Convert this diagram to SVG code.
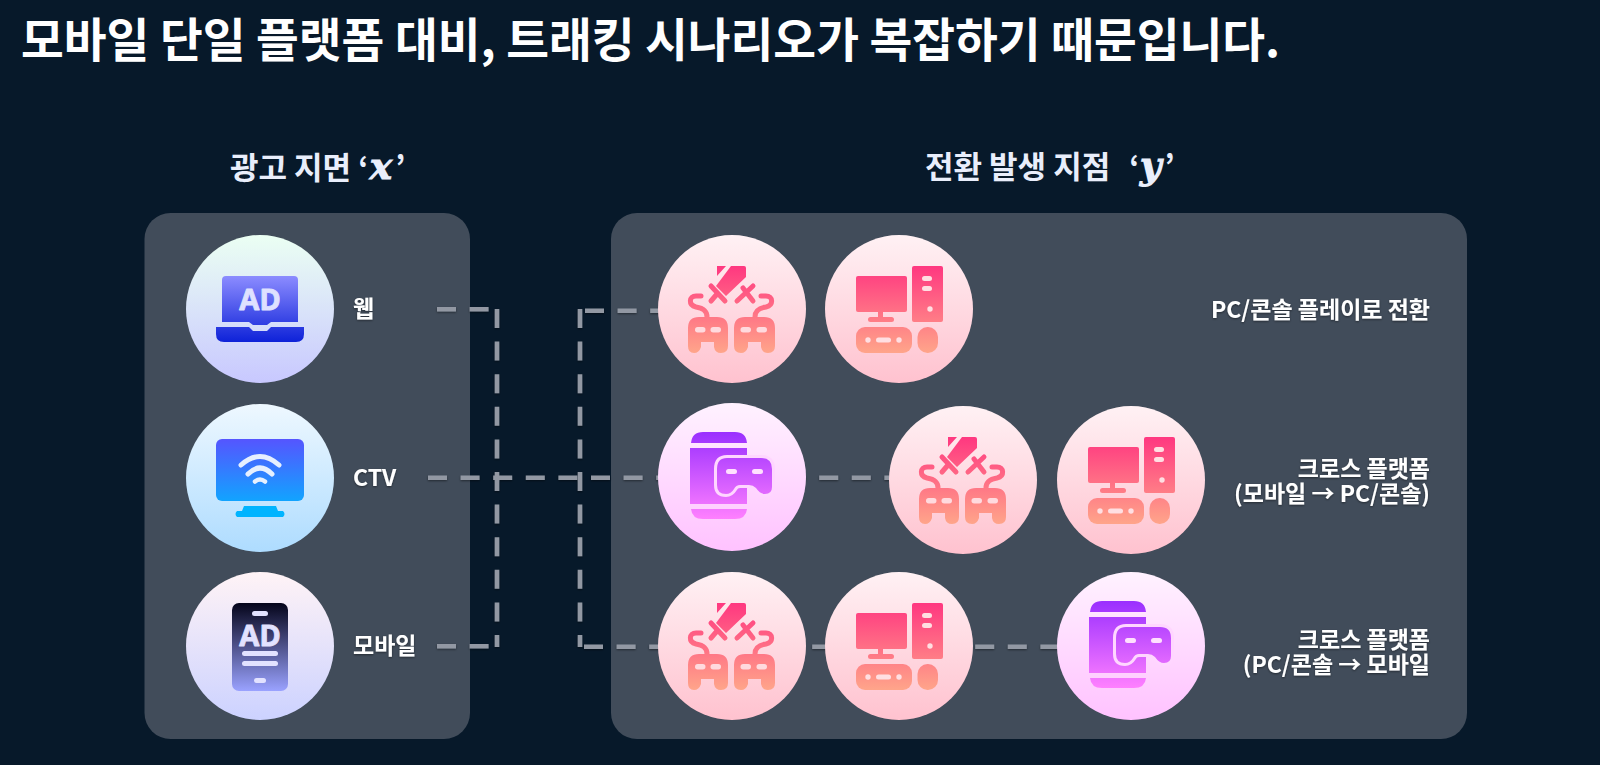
<svg xmlns="http://www.w3.org/2000/svg" width="1600" height="765" viewBox="0 0 1600 765">
<style>
text{font-family:"Noto Sans CJK KR","Noto Sans",sans-serif;fill:#fff}
.title{font-size:46.500px;font-weight:700}
.head{font-size:31px;font-weight:700;fill:#e9eefb}
.math{font-family:"DejaVu Math TeX Gyre","DejaVu Serif","Liberation Serif",serif;font-weight:700;font-size:37px}
.lab{font-size:23px;font-weight:700;filter:url(#soft)}
.r{text-anchor:end}
.panel{fill:#414c5a}
.dash{fill:none;stroke:#9298a3;stroke-width:4.600;stroke-dasharray:19 13.600}
.ad{font-family:"Noto Sans","Liberation Sans",sans-serif;font-weight:700;font-size:29px;text-anchor:middle;stroke-width:.8px;stroke-linejoin:round}
</style>
<defs>
<filter id="soft" x="-20%" y="-20%" width="140%" height="140%"><feDropShadow dx="0" dy="1" stdDeviation="0.800" flood-color="#000" flood-opacity="0.450"/></filter>
<filter id="edge" x="-5%" y="-5%" width="110%" height="110%"><feDropShadow dx="0" dy="0" stdDeviation="0.700" flood-color="#000" flood-opacity="0.250"/></filter>
<linearGradient id="cG" x1="0" y1="0" x2="0" y2="1"><stop offset="0" stop-color="#fff1f4"/><stop offset="1" stop-color="#ffc2cf"/></linearGradient>
<linearGradient id="cP" x1="0" y1="0" x2="0" y2="1"><stop offset="0" stop-color="#fff2ff"/><stop offset="1" stop-color="#ffc2ff"/></linearGradient>
<linearGradient id="cL" x1="0" y1="0" x2="0" y2="1"><stop offset="0" stop-color="#ebfff3"/><stop offset="1" stop-color="#c8c8ff"/></linearGradient>
<linearGradient id="cT" x1="0" y1="0" x2="0" y2="1"><stop offset="0" stop-color="#eef8ff"/><stop offset="1" stop-color="#aedcff"/></linearGradient>
<linearGradient id="cM" x1="0" y1="0" x2="0" y2="1"><stop offset="0" stop-color="#fff3f6"/><stop offset="1" stop-color="#ccd2ff"/></linearGradient>
<linearGradient id="gR" gradientUnits="userSpaceOnUse" x1="0" y1="-43" x2="0" y2="44"><stop offset="0" stop-color="#ff3780"/><stop offset="1" stop-color="#ffa58a"/></linearGradient>
<linearGradient id="gV" gradientUnits="userSpaceOnUse" x1="0" y1="-45" x2="0" y2="42"><stop offset="0" stop-color="#9a2fff"/><stop offset="1" stop-color="#ff80ff"/></linearGradient>
<linearGradient id="gL" gradientUnits="userSpaceOnUse" x1="0" y1="-33" x2="0" y2="33"><stop offset="0" stop-color="#8c8cff"/><stop offset="1" stop-color="#0e22d8"/></linearGradient>
<linearGradient id="gT" gradientUnits="userSpaceOnUse" x1="0" y1="-39" x2="0" y2="39"><stop offset="0" stop-color="#5555ff"/><stop offset="1" stop-color="#00b8ff"/></linearGradient>
<linearGradient id="gM" gradientUnits="userSpaceOnUse" x1="0" y1="-43" x2="0" y2="45"><stop offset="0" stop-color="#04041a"/><stop offset="1" stop-color="#9aa2ff"/></linearGradient>

<g id="game">
<circle r="74" fill="url(#cG)" filter="url(#edge)"/>
<g fill="url(#gR)">
<path d="M-15-43H-6L-15-33ZM-1-43H12Q14-43 14-41V-32L-6-13-16-23Z"/>
<path d="M-44 19Q-44 8-33 8H-15Q-4 8-4 19V37Q-4 44-11 44-17 44-18 38V33H-31V38Q-33 44-38 44-44 44-44 37Z"/>
<path d="M2 19Q2 8 13 8H32Q43 8 43 19V37Q43 44 36 44 30 44 29 38V33H16V38Q14 44 9 44 2 44 2 37Z"/>
</g>
<g fill="none" stroke="url(#gR)" stroke-linecap="round" stroke-width="5">
<path d="M-21-23-7-8M-21-8-15-15M21-23 5-8M11-21 21-8"/>
<path d="M-25 8C-25 1-30-1-36-2-44-4-43-13-36-13H-31"/>
<path d="M23 8C23 1 28-1 34-2 42-4 41-13 34-13H29"/>
</g>
<g fill="#ffdade"><rect x="-37" y="18" width="10.500" height="5.500" rx="2.700"/><rect x="-21.500" y="18" width="10.500" height="5.500" rx="2.700"/><rect x="8.500" y="18" width="10.500" height="5.500" rx="2.700"/><rect x="24.500" y="18" width="10.500" height="5.500" rx="2.700"/></g>
</g>

<g id="pc">
<circle r="74" fill="url(#cG)" filter="url(#edge)"/>
<g fill="url(#gR)">
<rect x="-43" y="-33" width="51" height="36" rx="2"/>
<rect x="-21" y="3" width="5" height="7"/>
<rect x="-31" y="8" width="26" height="5" rx="2.500"/>
<rect x="13" y="-43" width="31" height="56" rx="2"/>
<rect x="-43" y="18" width="56" height="26" rx="9"/>
<rect x="18.500" y="18" width="20.500" height="26" rx="10"/>
</g>
<g fill="#ffdfe2"><rect x="23" y="-33" width="10" height="5" rx="2.500"/><rect x="23" y="-23" width="10" height="5" rx="2.500"/><circle cx="31" cy="0" r="2.700"/><circle cx="-31" cy="31" r="2.700"/><circle cx="0" cy="31" r="2.700"/><rect x="-23" y="28.500" width="15" height="5" rx="2.500"/></g>
</g>

<g id="phone">
<circle r="74" fill="url(#cP)" filter="url(#edge)"/>
<g fill="url(#gV)">
<path d="M-41-34Q-40-45-29-45H3Q14-45 15-34Z"/>
<rect x="-42" y="-29" width="57" height="56"/>
<path d="M-41 32H15Q14 42 3 42H-29Q-40 42-41 32Z"/>
</g>
<path d="M-5-19H29Q40-19 40-8V10Q40 17 33 17 28 17 24 11 21 8 17 8H8Q4 8 2 12-1 17-6 17-15 17-15 8V-8Q-15-19-5-19Z" fill="url(#gV)" stroke="#ffd6ff" stroke-width="6" paint-order="stroke"/>
<g fill="#ffe0ff"><rect x="-6" y="-8" width="11" height="5" rx="2.500"/><rect x="20" y="-8" width="11" height="5" rx="2.500"/></g>
</g>
</defs>

<rect width="1600" height="765" fill="#07192a"/>
<text class="title" x="21" y="57">모바일 단일 플랫폼 대비, 트래킹 시나리오가 복잡하기 때문입니다.</text>
<text class="head" x="230" y="179">광고 지면 ‘<tspan class="math" dx="-2">𝒙</tspan>’</text>
<text class="head" x="925" y="178">전환 발생 지점<tspan dx="12"> ‘</tspan><tspan class="math" dx="-3">𝒚</tspan><tspan dx="-2">’</tspan></text>

<g id="panels">
<rect class="panel" x="144.500" y="213" width="325.500" height="526" rx="26"/>
<rect class="panel" x="611" y="213" width="856" height="526" rx="26"/>
</g>

<g id="connectors" filter="url(#soft)">
<path class="dash" d="M437 309.300H489"/>
<path class="dash" d="M437 646.300H489"/>
<path class="dash" d="M497 309V647"/>
<path class="dash" d="M580 309V647"/>
<path class="dash" d="M585 310.700H660"/>
<path class="dash" d="M428 477.700H890"/>
<path class="dash" d="M584 646.700H1060"/>
</g>

<g id="node-web">
<circle cx="260" cy="309" r="74" fill="url(#cL)" filter="url(#edge)"/>
<g transform="translate(260 309)">
<path d="M-34-33H34Q38-33 38-29V13H11L7 16H-7L-11 13H-38V-29Q-38-33-34-33Z" fill="url(#gL)"/>
<path d="M-44 18H-11L-7 22H7L11 18H44V25Q44 33 36 33H-36Q-44 33-44 25Z" fill="url(#gL)"/>
<text class="ad" x="0" y="1" style="fill:#dfe1ff;stroke:#dfe1ff">AD</text>
</g>
<text class="lab" x="353" y="317">웹</text>
</g>

<g id="node-ctv">
<circle cx="260" cy="478" r="74" fill="url(#cT)" filter="url(#edge)"/>
<g transform="translate(260 478)">
<rect x="-44" y="-39" width="88" height="62" rx="6" fill="url(#gT)"/>
<path d="M-16 28H16L18 33H23Q26 36 23 39H-23Q-26 36-23 33H-18Z" fill="#00b4ff"/>
<g fill="none" stroke="#e6f0ff" stroke-width="5" stroke-linecap="round"><path d="M-19-13Q0-30 19-13"/><path d="M-12-4Q0-16 12-4"/></g>
<path d="M-5 3.500Q0-.5 5 3.500" fill="none" stroke="#e6f0ff" stroke-width="4.500" stroke-linecap="round"/>
</g>
<text class="lab" x="353" y="486">CTV</text>
</g>

<g id="node-mobile">
<circle cx="260" cy="646" r="74" fill="url(#cM)" filter="url(#edge)"/>
<g transform="translate(260 646)">
<rect x="-28" y="-43" width="56" height="88" rx="7" fill="url(#gM)"/>
<g fill="#e2e2ff"><rect x="-8" y="-35" width="16" height="5" rx="2.500"/><rect x="-18" y="5" width="36" height="5" rx="2.500"/><rect x="-18" y="15" width="36" height="5" rx="2.500"/><rect x="-6" y="32" width="12" height="5" rx="2.500"/></g>
<text class="ad" x="0" y="0" style="fill:#e2e2ff;stroke:#e2e2ff">AD</text>
</g>
<text class="lab" x="353" y="654">모바일</text>
</g>

<g id="row1-game"><use href="#game" x="732" y="309"/></g>
<g id="row1-pc"><use href="#pc" x="899" y="309"/></g>
<g id="row1-label"><text class="lab r" x="1430" y="318">PC/콘솔 플레이로 전환</text></g>

<g id="row2-phone"><use href="#phone" x="732" y="477"/></g>
<g id="row2-game"><use href="#game" x="963" y="480"/></g>
<g id="row2-pc"><use href="#pc" x="1131" y="480"/></g>
<g id="row2-label"><text class="lab r" x="1430" y="477">크로스 플랫폼</text><text class="lab r" x="1430" y="502">(모바일 → PC/콘솔)</text></g>

<g id="row3-game"><use href="#game" x="732" y="646"/></g>
<g id="row3-pc"><use href="#pc" x="899" y="646"/></g>
<g id="row3-phone"><use href="#phone" x="1131" y="646"/></g>
<g id="row3-label"><text class="lab r" x="1430" y="648">크로스 플랫폼</text><text class="lab r" x="1430" y="673">(PC/콘솔 → 모바일</text></g>
</svg>
